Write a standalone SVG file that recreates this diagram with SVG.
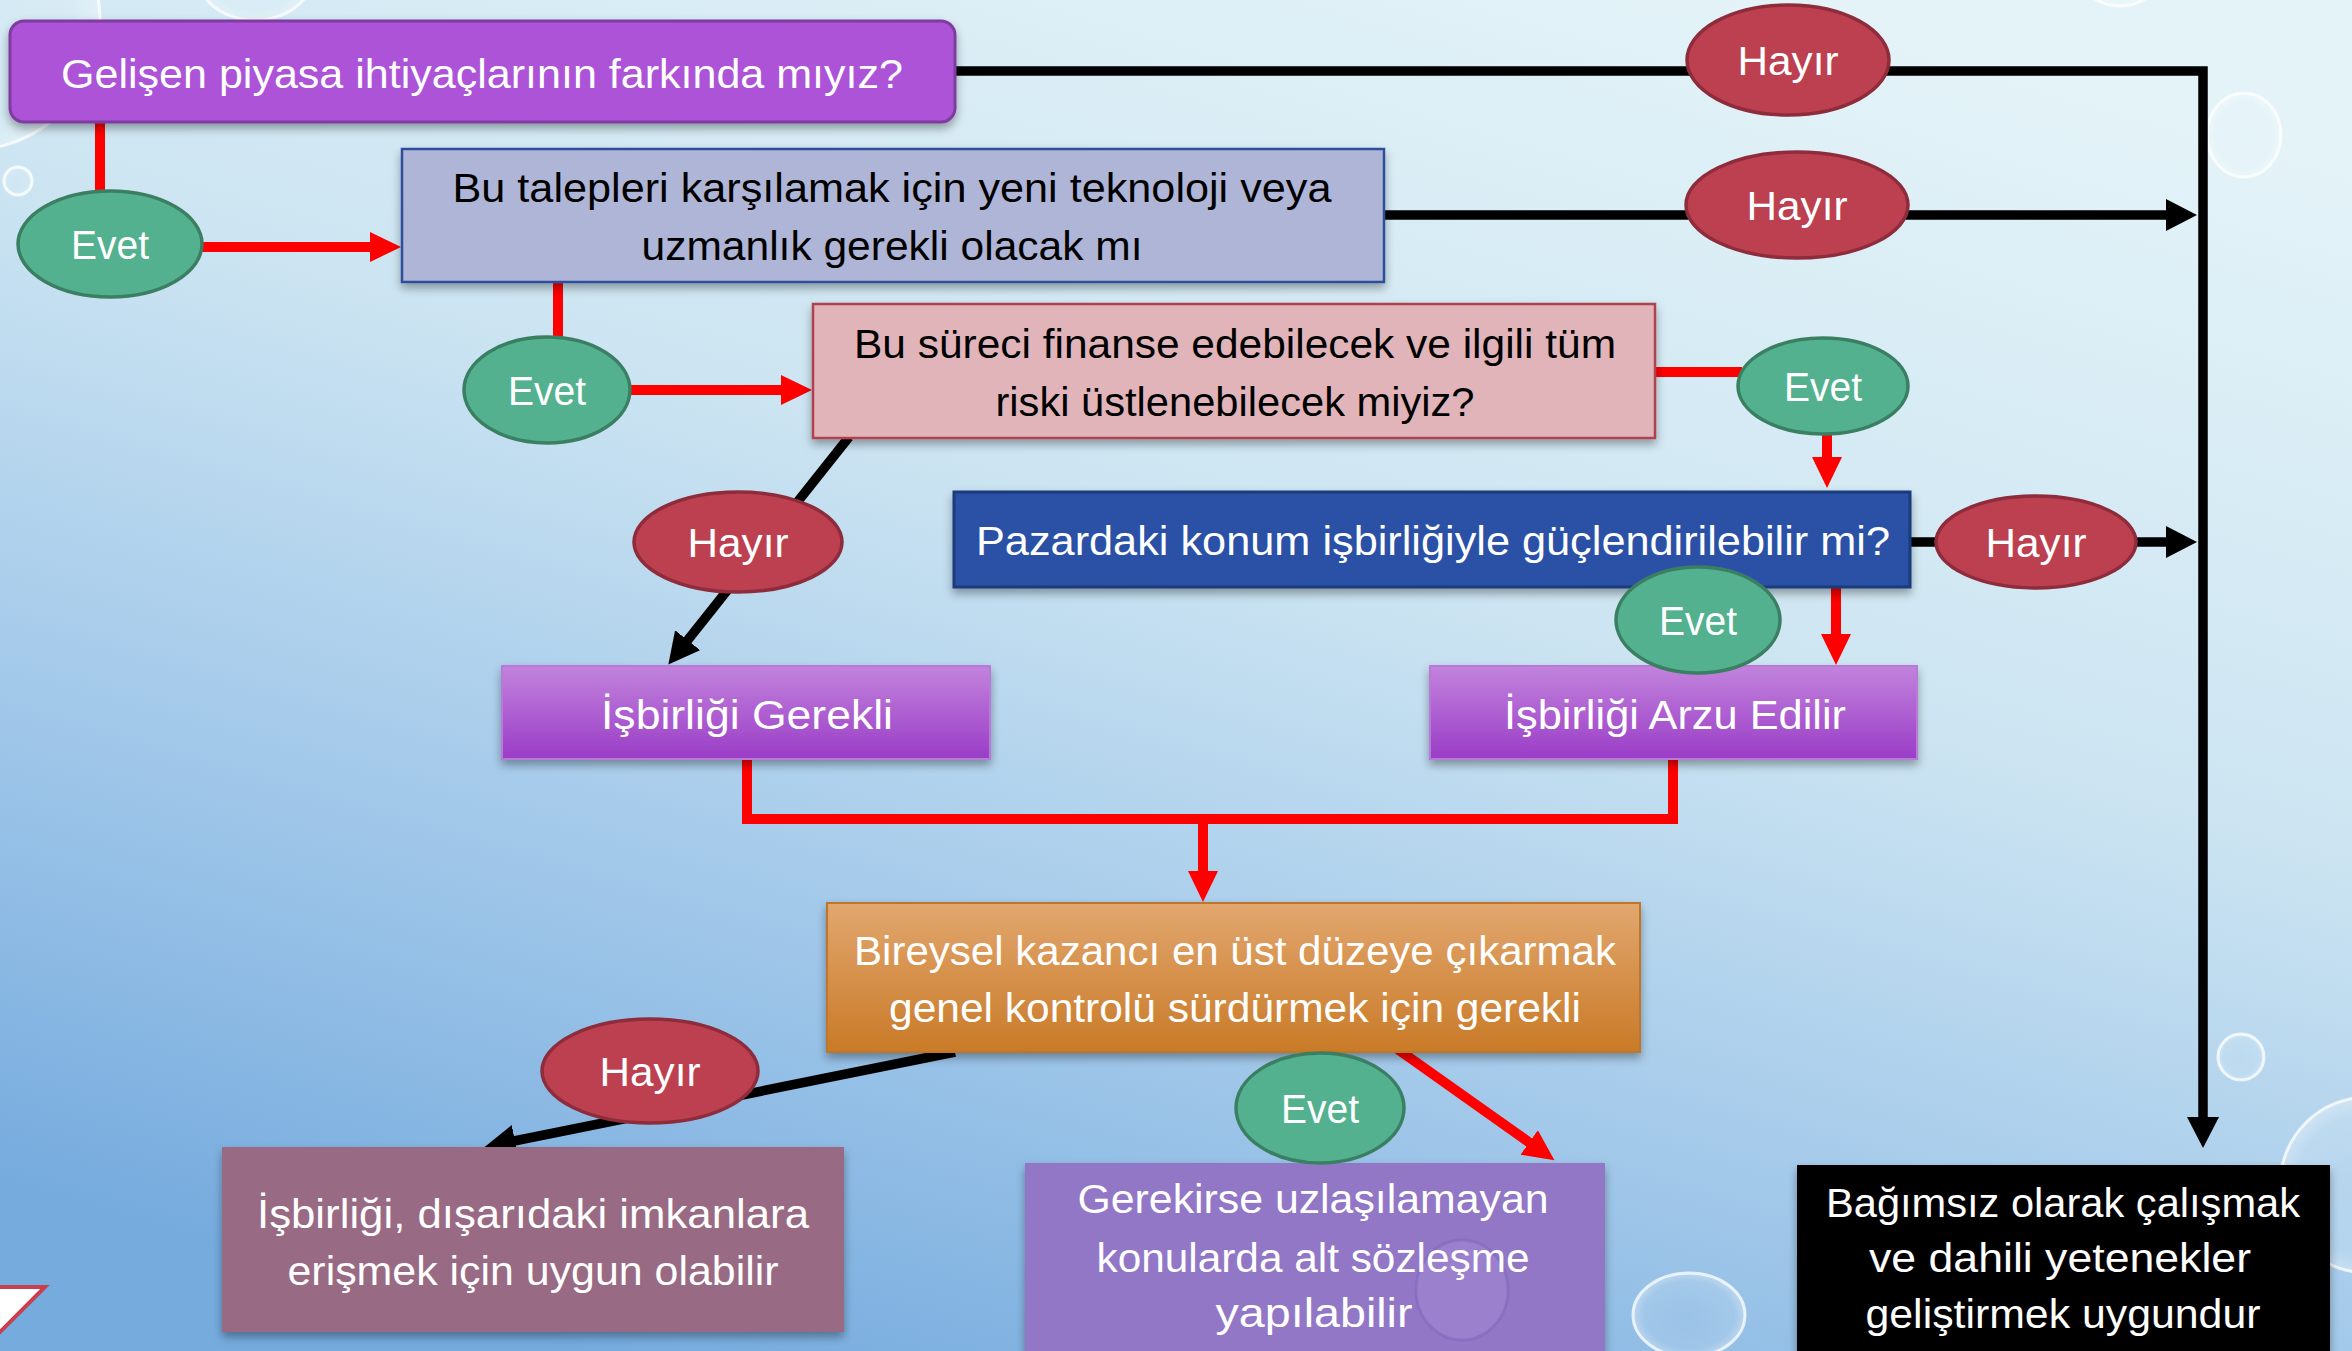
<svg xmlns="http://www.w3.org/2000/svg" width="2352" height="1351" viewBox="0 0 2352 1351">
<defs>
  <linearGradient id="bg" x1="0.75" y1="0" x2="0.25" y2="1">
    <stop offset="0" stop-color="#E3F3F8"/>
    <stop offset="0.4" stop-color="#CDE5F2"/>
    <stop offset="0.7" stop-color="#A3C9EA"/>
    <stop offset="1" stop-color="#76ABDE"/>
  </linearGradient>
  <linearGradient id="gPurple" x1="0" y1="0" x2="0" y2="1">
    <stop offset="0" stop-color="#C283DC"/>
    <stop offset="1" stop-color="#9A3DC7"/>
  </linearGradient>
  <linearGradient id="gOrange" x1="0" y1="0" x2="0" y2="1">
    <stop offset="0" stop-color="#E2A76F"/>
    <stop offset="1" stop-color="#C97A27"/>
  </linearGradient>
  <radialGradient id="bub" cx="0.5" cy="0.5" r="0.5">
    <stop offset="0" stop-color="#FFFFFF" stop-opacity="0.05"/>
    <stop offset="0.8" stop-color="#FFFFFF" stop-opacity="0.12"/>
    <stop offset="1" stop-color="#FFFFFF" stop-opacity="0.35"/>
  </radialGradient>
  <filter id="sh" x="-10%" y="-20%" width="120%" height="150%">
    <feDropShadow dx="0" dy="5" stdDeviation="5" flood-color="#000" flood-opacity="0.35"/>
  </filter>
  <marker id="ar" markerUnits="userSpaceOnUse" markerWidth="34" markerHeight="32" refX="1" refY="15" orient="auto">
    <path d="M0,0 L31,15 L0,30 z" fill="#FF0000"/>
  </marker>
  <marker id="ab" markerUnits="userSpaceOnUse" markerWidth="34" markerHeight="34" refX="1" refY="16" orient="auto">
    <path d="M0,0 L31,16 L0,32 z" fill="#000000"/>
  </marker>
  <style>
    .t { font-family: "Liberation Sans", Arial, sans-serif; font-size: 40px; text-anchor: middle; }
    .w { fill: #FFFFFF; }
    .k { fill: #000000; }
    .blk { fill: none; stroke: #000000; stroke-width: 9.5; stroke-linejoin: miter; }
    .red { fill: none; stroke: #FF0000; stroke-width: 10; stroke-linejoin: miter; }
    .evet { fill: #53B18F; stroke: #3B7F63; stroke-width: 3.5; }
    .hayir { fill: #BC4050; stroke: #8E2C3C; stroke-width: 3.5; }
    .bubble { fill: url(#bub); stroke: #FFFFFF; stroke-opacity: 0.75; stroke-width: 3; }
  </style>
</defs>

<rect x="0" y="0" width="2352" height="1351" fill="url(#bg)"/>

<g id="decor">
  <circle class="bubble" cx="-30" cy="20" r="130"/>
  <ellipse class="bubble" cx="255" cy="-25" rx="58" ry="45"/>
  <circle class="bubble" cx="18" cy="181" r="14"/>
  <ellipse class="bubble" cx="2120" cy="-30" rx="42" ry="36"/>
  <ellipse class="bubble" cx="2244" cy="135" rx="37" ry="42"/>
  <circle class="bubble" cx="2241" cy="1057" r="23"/>
  <circle class="bubble" cx="2368" cy="1185" r="88"/>
  <ellipse class="bubble" cx="1689" cy="1315" rx="56" ry="42"/>
  <polygon points="-5,1287 45,1287 -5,1337" fill="#FFFFFF" stroke="#C8404F" stroke-width="4"/>
</g>

<g id="connectors">
  <path class="blk" d="M955,71 H2203 V1118" marker-end="url(#ab)"/>
  <path class="blk" d="M1384,215 H2167" marker-end="url(#ab)"/>
  <path class="blk" d="M1910,542 H2167" marker-end="url(#ab)"/>
  <path class="blk" d="M849,437 L687,641" marker-end="url(#ab)"/>
  <path class="blk" d="M955,1052 L514,1141" marker-end="url(#ab)"/>

  <path class="red" d="M100,122 V192" stroke-width="11"/>
  <path class="red" d="M201,247 H371" stroke-width="11" marker-end="url(#ar)"/>
  <path class="red" d="M558,282 V338" stroke-width="9"/>
  <path class="red" d="M629,390 H782" stroke-width="11" marker-end="url(#ar)"/>
  <path class="red" d="M1655,372 H1742"/>
  <path class="red" d="M1827,433 V458" marker-end="url(#ar)"/>
  <path class="red" d="M1836,587 V635" marker-end="url(#ar)"/>
  <path class="red" d="M747,759 V819 H1673 V759"/>
  <path class="red" d="M1203,819 V872" marker-end="url(#ar)"/>
  <path class="red" d="M1396,1048 L1530,1143" stroke-width="9" marker-end="url(#ar)"/>
</g>

<g id="n1">
  <rect x="10" y="21" width="945" height="101" rx="14" fill="#AD52D8" stroke="#7E3BA0" stroke-width="3" filter="url(#sh)"/>
  <text class="t w" x="482" y="88" textLength="842" lengthAdjust="spacingAndGlyphs">Gelişen piyasa ihtiyaçlarının farkında mıyız?</text>
</g>

<g id="n2">
  <rect x="402" y="149" width="982" height="133" fill="#AFB5D6" stroke="#2E4E9A" stroke-width="2.5" filter="url(#sh)"/>
  <text class="t k" x="892" y="202" textLength="879" lengthAdjust="spacingAndGlyphs">Bu talepleri karşılamak için yeni teknoloji veya</text>
  <text class="t k" x="892" y="260" textLength="501" lengthAdjust="spacingAndGlyphs">uzmanlık gerekli olacak mı</text>
</g>

<g id="n3">
  <rect x="813" y="304" width="842" height="134" fill="#E0B4B9" stroke="#B0424F" stroke-width="2.5" filter="url(#sh)"/>
  <text class="t k" x="1235" y="358" textLength="762" lengthAdjust="spacingAndGlyphs">Bu süreci finanse edebilecek ve ilgili tüm</text>
  <text class="t k" x="1235" y="416" textLength="479" lengthAdjust="spacingAndGlyphs">riski üstlenebilecek miyiz?</text>
</g>

<g id="n4">
  <rect x="954" y="492" width="956" height="95" fill="#2A51A5" stroke="#1B3A7A" stroke-width="3" filter="url(#sh)"/>
  <text class="t w" x="1433" y="555" textLength="914" lengthAdjust="spacingAndGlyphs">Pazardaki konum işbirliğiyle güçlendirilebilir mi?</text>
</g>

<g id="n5">
  <rect x="502" y="666" width="488" height="93" fill="url(#gPurple)" stroke="#B77AD8" stroke-width="2" filter="url(#sh)"/>
  <text class="t w" x="747" y="729" textLength="292" lengthAdjust="spacingAndGlyphs">İşbirliği Gerekli</text>
</g>

<g id="n6">
  <rect x="1430" y="666" width="487" height="93" fill="url(#gPurple)" stroke="#B77AD8" stroke-width="2" filter="url(#sh)"/>
  <text class="t w" x="1675" y="729" textLength="342" lengthAdjust="spacingAndGlyphs">İşbirliği Arzu Edilir</text>
</g>

<g id="n7">
  <rect x="827" y="903" width="813" height="149" fill="url(#gOrange)" stroke="#C0762C" stroke-width="2" filter="url(#sh)"/>
  <text class="t w" x="1235" y="965" textLength="762" lengthAdjust="spacingAndGlyphs">Bireysel kazancı en üst düzeye çıkarmak</text>
  <text class="t w" x="1235" y="1022" textLength="692" lengthAdjust="spacingAndGlyphs">genel kontrolü sürdürmek için gerekli</text>
</g>

<g id="n8">
  <rect x="222" y="1147" width="622" height="185" fill="#996A83" filter="url(#sh)"/>
  <text class="t w" x="533" y="1228" textLength="552" lengthAdjust="spacingAndGlyphs">İşbirliği, dışarıdaki imkanlara</text>
  <text class="t w" x="533" y="1285" textLength="491" lengthAdjust="spacingAndGlyphs">erişmek için uygun olabilir</text>
</g>

<g id="n9">
  <rect x="1025" y="1163" width="580" height="200" fill="#9277C7" filter="url(#sh)"/>
  <ellipse cx="1462" cy="1290" rx="46" ry="50" fill="#A48AD6" fill-opacity="0.5" stroke="#7E62B4" stroke-opacity="0.45" stroke-width="3"/>
  <text class="t w" x="1313" y="1213" textLength="471" lengthAdjust="spacingAndGlyphs">Gerekirse uzlaşılamayan</text>
  <text class="t w" x="1313" y="1272" textLength="433" lengthAdjust="spacingAndGlyphs">konularda alt sözleşme</text>
  <text class="t w" x="1314" y="1327" textLength="197" lengthAdjust="spacingAndGlyphs">yapılabilir</text>
</g>

<g id="n10">
  <rect x="1797" y="1165" width="533" height="200" fill="#000000" filter="url(#sh)"/>
  <text class="t w" x="2063" y="1217" textLength="474" lengthAdjust="spacingAndGlyphs">Bağımsız olarak çalışmak</text>
  <text class="t w" x="2060" y="1272" textLength="382" lengthAdjust="spacingAndGlyphs">ve dahili yetenekler</text>
  <text class="t w" x="2063" y="1328" textLength="395" lengthAdjust="spacingAndGlyphs">geliştirmek uygundur</text>
</g>

<g id="hayir1"><ellipse class="hayir" cx="1788" cy="60" rx="101" ry="55"/><text class="t w" x="1788" y="75" textLength="101" lengthAdjust="spacingAndGlyphs">Hayır</text></g>
<g id="hayir2"><ellipse class="hayir" cx="1797" cy="205" rx="111" ry="53"/><text class="t w" x="1797" y="220" textLength="101" lengthAdjust="spacingAndGlyphs">Hayır</text></g>
<g id="evet1"><ellipse class="evet" cx="110" cy="244" rx="92" ry="53"/><text class="t w" x="110" y="259" textLength="78" lengthAdjust="spacingAndGlyphs">Evet</text></g>
<g id="evet2"><ellipse class="evet" cx="547" cy="390" rx="83" ry="53"/><text class="t w" x="547" y="405" textLength="78" lengthAdjust="spacingAndGlyphs">Evet</text></g>
<g id="evet3"><ellipse class="evet" cx="1823" cy="386" rx="85" ry="48"/><text class="t w" x="1823" y="401" textLength="78" lengthAdjust="spacingAndGlyphs">Evet</text></g>
<g id="hayir3"><ellipse class="hayir" cx="738" cy="542" rx="104" ry="50"/><text class="t w" x="738" y="557" textLength="101" lengthAdjust="spacingAndGlyphs">Hayır</text></g>
<g id="hayir4"><ellipse class="hayir" cx="2036" cy="542" rx="100" ry="46"/><text class="t w" x="2036" y="557" textLength="101" lengthAdjust="spacingAndGlyphs">Hayır</text></g>
<g id="evet4"><ellipse class="evet" cx="1698" cy="620" rx="82" ry="53"/><text class="t w" x="1698" y="635" textLength="78" lengthAdjust="spacingAndGlyphs">Evet</text></g>
<g id="hayir5"><ellipse class="hayir" cx="650" cy="1071" rx="108" ry="52"/><text class="t w" x="650" y="1086" textLength="101" lengthAdjust="spacingAndGlyphs">Hayır</text></g>
<g id="evet5"><ellipse class="evet" cx="1320" cy="1108" rx="84" ry="55"/><text class="t w" x="1320" y="1123" textLength="78" lengthAdjust="spacingAndGlyphs">Evet</text></g>
</svg>
